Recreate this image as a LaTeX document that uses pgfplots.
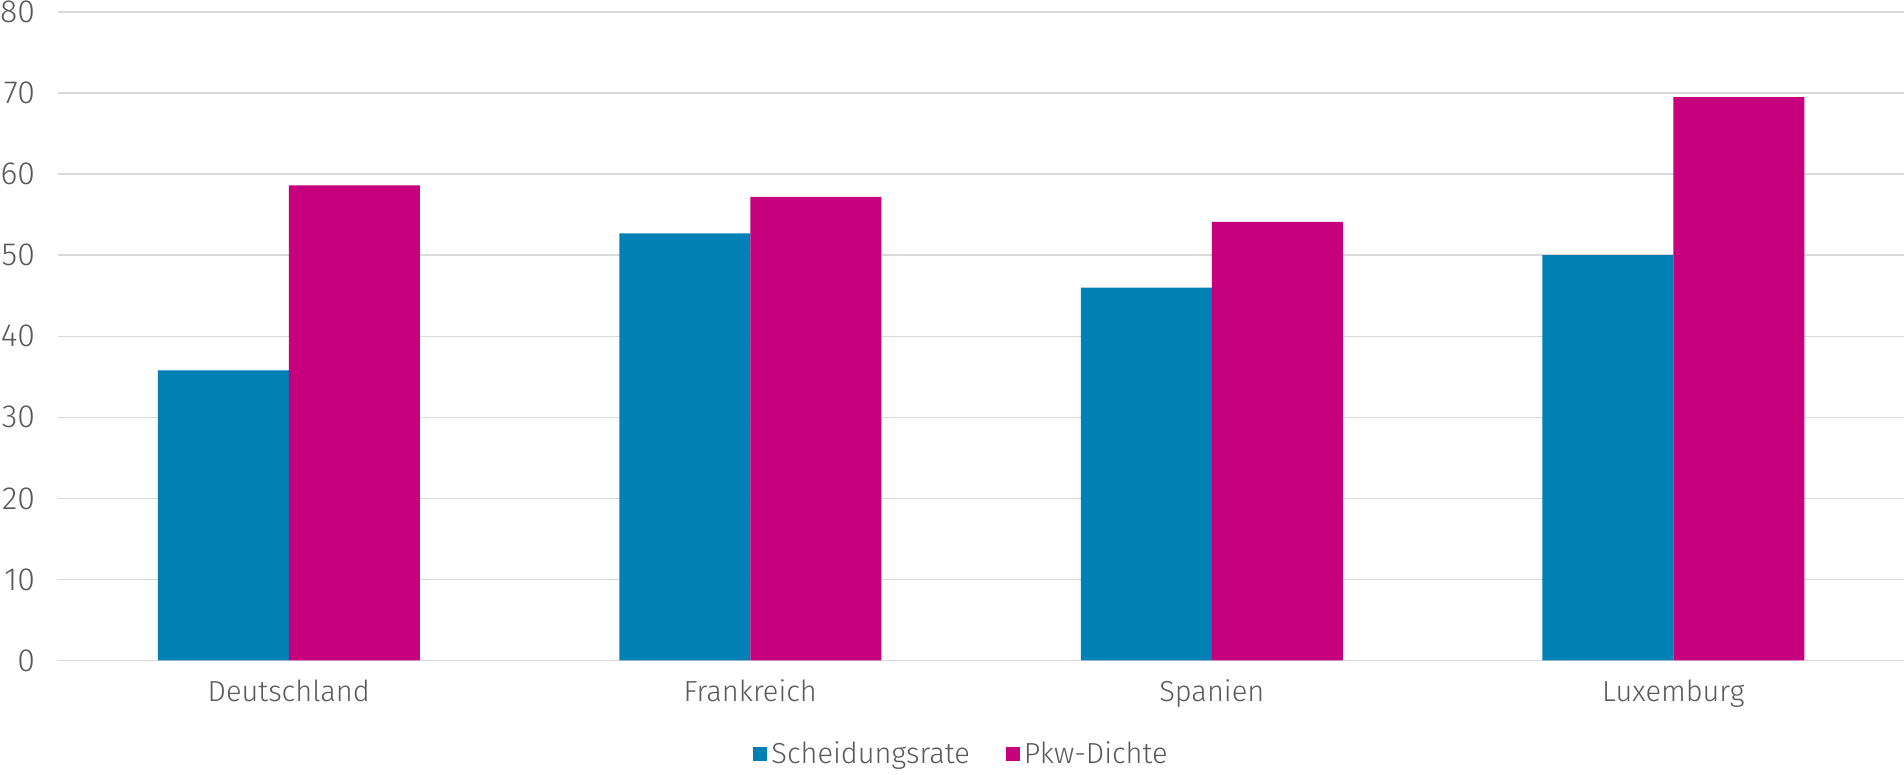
\documentclass[border=0pt]{standalone}
\usepackage{fontspec}
\setmainfont{Fira Sans}[UprightFont=* Light]
\usepackage{pgfplots}
\pgfplotsset{compat=1.18}
\definecolor{cblue}{HTML}{0080B4}
\definecolor{cpink}{HTML}{C7007D}
\definecolor{cgrid}{HTML}{D9D9D9}
\definecolor{ctext}{HTML}{595959}
\begin{document}
\begin{tikzpicture}
\begin{axis}[
  at={(0,0)}, anchor=south west,
  scale only axis,
  width=923pt, height=324.25pt,
  ybar=0pt, bar width=65.5pt,
  xmin=-0.5, xmax=3.5,
  ymin=0, ymax=80,
  ytick={0,10,...,80},
  xtick={0,1,2,3},
  xticklabels={Deutschland,Frankreich,Spanien,Luxemburg},
  axis line style={draw=none},
  major tick length=0pt,
  ymajorgrids,
  major grid style={draw=cgrid, line width=0.7pt},
  /pgf/number format/assume math mode=true,
  tick label style={font=\fontsize{14.5}{16}\selectfont, text=ctext},
  yticklabel style={font=\fontsize{16}{18}\selectfont, xshift=-8pt},
  xticklabel style={yshift=-6pt},
  legend style={draw=none, fill=none, at={(0.49,0)}, yshift=-47pt, anchor=center,
    legend columns=2, font=\fontsize{14.5}{16}\selectfont, text=ctext,
    /tikz/every even column/.append style={column sep=16pt}},
  legend image code/.code={\fill[#1] (0pt,-3pt) rectangle (7pt,4pt);},
]
\addplot[fill=cblue, draw=none] coordinates {(0,35.8) (1,52.7) (2,46.0) (3,50.0)};
\addplot[fill=cpink, draw=none] coordinates {(0,58.6) (1,57.2) (2,54.1) (3,69.5)};
\legend{Scheidungsrate, Pkw-Dichte}
\end{axis}
\pgfresetboundingbox
\path[use as bounding box] (-29pt,-57.25pt) rectangle (923pt,330.25pt);
\end{tikzpicture}
\end{document}
